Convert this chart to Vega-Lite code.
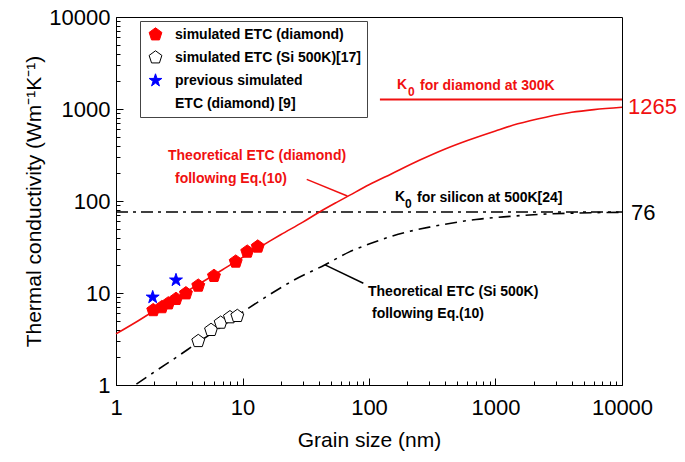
{
  "$schema": "https://vega.github.io/schema/vega-lite/v6.json",
  "width": 506,
  "height": 368,
  "autosize": {"type": "none"},
  "padding": {"left": 116, "top": 17, "right": 63, "bottom": 77},
  "background": "white",
  "config": {
    "font": "Liberation Sans",
    "view": {"stroke": "black", "strokeWidth": 1},
    "axis": {
      "grid": false,
      "domainColor": "black",
      "domainWidth": 1,
      "tickColor": "black",
      "tickWidth": 1,
      "labelColor": "black",
      "labelFont": "Liberation Sans",
      "labelFontSize": 22,
      "labelFlush": false,
      "labelOverlap": false,
      "titleColor": "black",
      "titleFont": "Liberation Sans",
      "titleFontSize": 21,
      "titleFontWeight": "normal"
    },
    "legend": {
      "labelLimit": 400,
      "labelFont": "Liberation Sans",
      "labelFontWeight": "bold",
      "labelFontSize": 14,
      "labelColor": "black",
      "strokeColor": "#444444",
      "fillColor": "white",
      "padding": 6,
      "rowPadding": 6,
      "symbolSize": 180,
      "symbolOffset": 2,
      "labelOffset": 12,
      "symbolStrokeWidth": 1
    }
  },
  "encoding": {
    "x": {
      "field": "x",
      "type": "quantitative",
      "scale": {"type": "log", "domain": [1, 10000], "nice": false},
      "axis": {
        "title": "Grain size (nm)",
        "values": [1,2,3,4,5,6,7,8,9,10,20,30,40,50,60,70,80,90,100,200,300,400,500,600,700,800,900,1000,2000,3000,4000,5000,6000,7000,8000,9000,10000],
        "format": "d",
        "labelExpr": "indexof([1,10,100,1000,10000], datum.value) >= 0 ? datum.label : ''",
        "tickSize": {"condition": {"test": "indexof([1,10,100,1000,10000], datum.value) >= 0", "value": -7}, "value": -4},
        "labelPadding": 19,
        "titlePadding": 8
      }
    },
    "y": {
      "field": "y",
      "type": "quantitative",
      "scale": {"type": "log", "domain": [1, 10000], "nice": false},
      "axis": {
        "title": "Thermal conductivity (Wm⁻¹K⁻¹)",
        "values": [1,2,3,4,5,6,7,8,9,10,20,30,40,50,60,70,80,90,100,200,300,400,500,600,700,800,900,1000,2000,3000,4000,5000,6000,7000,8000,9000,10000],
        "format": "d",
        "labelExpr": "indexof([1,10,100,1000,10000], datum.value) >= 0 ? datum.label : ''",
        "tickSize": {"condition": {"test": "indexof([1,10,100,1000,10000], datum.value) >= 0", "value": -7}, "value": -4},
        "labelPadding": 13,
        "titlePadding": 4
      }
    }
  },
  "layer": [
    {
      "data": {"values": [{"x": 1, "y": 76}, {"x": 10000, "y": 76}]},
      "mark": {"type": "line", "color": "black", "strokeWidth": 1.6, "strokeDash": [12, 5, 3, 5]},
      "encoding": {}
    },
    {
      "data": {"values": [
        {"x": 1.45, "y": 1.02}, {"x": 2, "y": 1.38}, {"x": 3, "y": 2.0}, {"x": 4.5, "y": 2.93},
        {"x": 6, "y": 3.82}, {"x": 9, "y": 5.6}, {"x": 15, "y": 8.9}, {"x": 25, "y": 13.6},
        {"x": 45, "y": 20.3}, {"x": 70, "y": 28}, {"x": 100, "y": 34}, {"x": 140, "y": 40},
        {"x": 200, "y": 46}, {"x": 300, "y": 52}, {"x": 400, "y": 56}, {"x": 700, "y": 63},
        {"x": 1300, "y": 68}, {"x": 2000, "y": 71}, {"x": 4000, "y": 73.8}, {"x": 10000, "y": 75.3}
      ]},
      "mark": {"type": "line", "color": "black", "strokeWidth": 1.6, "strokeDash": [12, 6, 3, 6], "interpolate": "monotone"},
      "encoding": {}
    },
    {
      "data": {"values": [{"x": 122, "y": 1265}, {"x": 10000, "y": 1265}]},
      "mark": {"type": "line", "color": "#f01010", "strokeWidth": 2},
      "encoding": {}
    },
    {
      "data": {"values": [
        {"x": 1, "y": 3.6}, {"x": 1.5, "y": 5.0}, {"x": 2, "y": 6.4}, {"x": 3, "y": 8.9},
        {"x": 5, "y": 13.6}, {"x": 7, "y": 18}, {"x": 10, "y": 24.4}, {"x": 15, "y": 34},
        {"x": 20, "y": 43}, {"x": 30, "y": 59}, {"x": 40, "y": 75}, {"x": 55, "y": 96},
        {"x": 70, "y": 115}, {"x": 100, "y": 150}, {"x": 150, "y": 197}, {"x": 250, "y": 277},
        {"x": 400, "y": 368}, {"x": 600, "y": 455}, {"x": 1000, "y": 578}, {"x": 1500, "y": 690},
        {"x": 2500, "y": 815}, {"x": 4000, "y": 920}, {"x": 6000, "y": 985}, {"x": 10000, "y": 1043}
      ]},
      "mark": {"type": "line", "color": "#f01010", "strokeWidth": 1.6, "interpolate": "monotone"},
      "encoding": {}
    },
    {
      "data": {"values": [{"x": 32.2, "y": 172}, {"x": 67.4, "y": 113.3}]},
      "mark": {"type": "line", "color": "#f01010", "strokeWidth": 1.5},
      "encoding": {}
    },
    {
      "data": {"values": [{"x": 44.9, "y": 20.2}, {"x": 90.2, "y": 12.75}]},
      "mark": {"type": "line", "color": "black", "strokeWidth": 1.5},
      "encoding": {}
    },
    {
      "data": {"values": [
        {"x": 1.97, "y": 6.5, "series": "simulated ETC (diamond)"},
        {"x": 2.3, "y": 7.0, "series": "simulated ETC (diamond)"},
        {"x": 2.59, "y": 7.7, "series": "simulated ETC (diamond)"},
        {"x": 2.98, "y": 8.6, "series": "simulated ETC (diamond)"},
        {"x": 3.57, "y": 9.9, "series": "simulated ETC (diamond)"},
        {"x": 4.47, "y": 12.0, "series": "simulated ETC (diamond)"},
        {"x": 5.95, "y": 15.3, "series": "simulated ETC (diamond)"},
        {"x": 8.84, "y": 21.9, "series": "simulated ETC (diamond)"},
        {"x": 10.9, "y": 28.1, "series": "simulated ETC (diamond)"},
        {"x": 13.2, "y": 31.9, "series": "simulated ETC (diamond)"},
        {"x": 4.47, "y": 3.0, "series": "simulated ETC (Si 500K)[17]"},
        {"x": 5.64, "y": 3.96, "series": "simulated ETC (Si 500K)[17]"},
        {"x": 6.72, "y": 4.75, "series": "simulated ETC (Si 500K)[17]"},
        {"x": 7.96, "y": 5.44, "series": "simulated ETC (Si 500K)[17]"},
        {"x": 9.1, "y": 5.62, "series": "simulated ETC (Si 500K)[17]"},
        {"x": 1.95, "y": 9.0, "series": "previous simulated"},
        {"x": 2.98, "y": 13.8, "series": "previous simulated"}
      ]},
      "mark": {"type": "point", "filled": true, "size": 185, "strokeWidth": 1, "opacity": 1},
      "encoding": {
        "shape": {
          "field": "series", "type": "nominal",
          "scale": {
            "domain": ["simulated ETC (diamond)", "simulated ETC (Si 500K)[17]", "previous simulated", "ETC (diamond) [9]"],
            "range": [
              "M0,-1L0.951,-0.309L0.588,0.809L-0.588,0.809L-0.951,-0.309Z",
              "M0,-1L0.951,-0.309L0.588,0.809L-0.588,0.809L-0.951,-0.309Z",
              "M0,-1L0.2245,-0.309L0.951,-0.309L0.363,0.118L0.588,0.809L0,0.382L-0.588,0.809L-0.363,0.118L-0.951,-0.309L-0.2245,-0.309Z",
              "M0,-1L0.951,-0.309L0.588,0.809L-0.588,0.809L-0.951,-0.309Z"
            ]
          },
          "legend": {"orient": "none", "legendX": 24, "legendY": 4, "title": null, "labelFontSize": 14, "labelExpr": "datum.label == 'simulated ETC (Si 500K)[17]' ? datum.label + '        ' : datum.label"}
        },
        "fill": {
          "field": "series", "type": "nominal",
          "scale": {
            "domain": ["simulated ETC (diamond)", "simulated ETC (Si 500K)[17]", "previous simulated", "ETC (diamond) [9]"],
            "range": ["#ff0000", "#ffffff", "#0000ff", "transparent"]
          },
          "legend": {"orient": "none", "legendX": 24, "legendY": 4, "title": null, "labelFontSize": 14, "labelExpr": "datum.label == 'simulated ETC (Si 500K)[17]' ? datum.label + '        ' : datum.label"}
        },
        "stroke": {
          "field": "series", "type": "nominal",
          "scale": {
            "domain": ["simulated ETC (diamond)", "simulated ETC (Si 500K)[17]", "previous simulated", "ETC (diamond) [9]"],
            "range": ["#ff0000", "#000000", "#0000ff", "transparent"]
          },
          "legend": {"orient": "none", "legendX": 24, "legendY": 4, "title": null, "labelFontSize": 14, "labelExpr": "datum.label == 'simulated ETC (Si 500K)[17]' ? datum.label + '        ' : datum.label"}
        }
      }
    },
    {
      "data": {"values": [
        {"x": 2.577, "y": 308.4, "t": "Theoretical ETC (diamond)"},
        {"x": 2.927, "y": 173.4, "t": "following Eq.(10)"},
        {"x": 166.5, "y": 1824, "t": "K"},
        {"x": 253.1, "y": 1778, "t": "for diamond at 300K"}
      ]},
      "mark": {"type": "text", "align": "left", "baseline": "middle", "font": "Liberation Sans", "fontWeight": "bold", "fontSize": 14, "color": "#f01010"},
      "encoding": {"text": {"field": "t"}}
    },
    {
      "data": {"values": [{"x": 203.4, "y": 1530, "t": "0"}]},
      "mark": {"type": "text", "align": "left", "baseline": "middle", "font": "Liberation Sans", "fontWeight": "bold", "fontSize": 12, "color": "#f01010"},
      "encoding": {"text": {"field": "t"}}
    },
    {
      "data": {"values": [
        {"x": 98.2, "y": 10.25, "t": "Theoretical ETC (Si 500K)"},
        {"x": 105.6, "y": 5.91, "t": "following Eq.(10)"},
        {"x": 160.5, "y": 110.5, "t": "K"},
        {"x": 239.6, "y": 107.8, "t": "for silicon at 500K[24]"}
      ]},
      "mark": {"type": "text", "align": "left", "baseline": "middle", "font": "Liberation Sans", "fontWeight": "bold", "fontSize": 14, "color": "black"},
      "encoding": {"text": {"field": "t"}}
    },
    {
      "data": {"values": [{"x": 192.6, "y": 92.8, "t": "0"}]},
      "mark": {"type": "text", "align": "left", "baseline": "middle", "font": "Liberation Sans", "fontWeight": "bold", "fontSize": 12, "color": "black"},
      "encoding": {"text": {"field": "t"}}
    },
    {
      "data": {"values": [{"x": 11154, "y": 1051, "t": "1265"}]},
      "mark": {"type": "text", "align": "left", "baseline": "middle", "font": "Liberation Sans", "fontSize": 22, "color": "#f01010"},
      "encoding": {"text": {"field": "t"}}
    },
    {
      "data": {"values": [{"x": 11781, "y": 74.1, "t": "76"}]},
      "mark": {"type": "text", "align": "left", "baseline": "middle", "font": "Liberation Sans", "fontSize": 22, "color": "black"},
      "encoding": {"text": {"field": "t"}}
    }
  ]
}
